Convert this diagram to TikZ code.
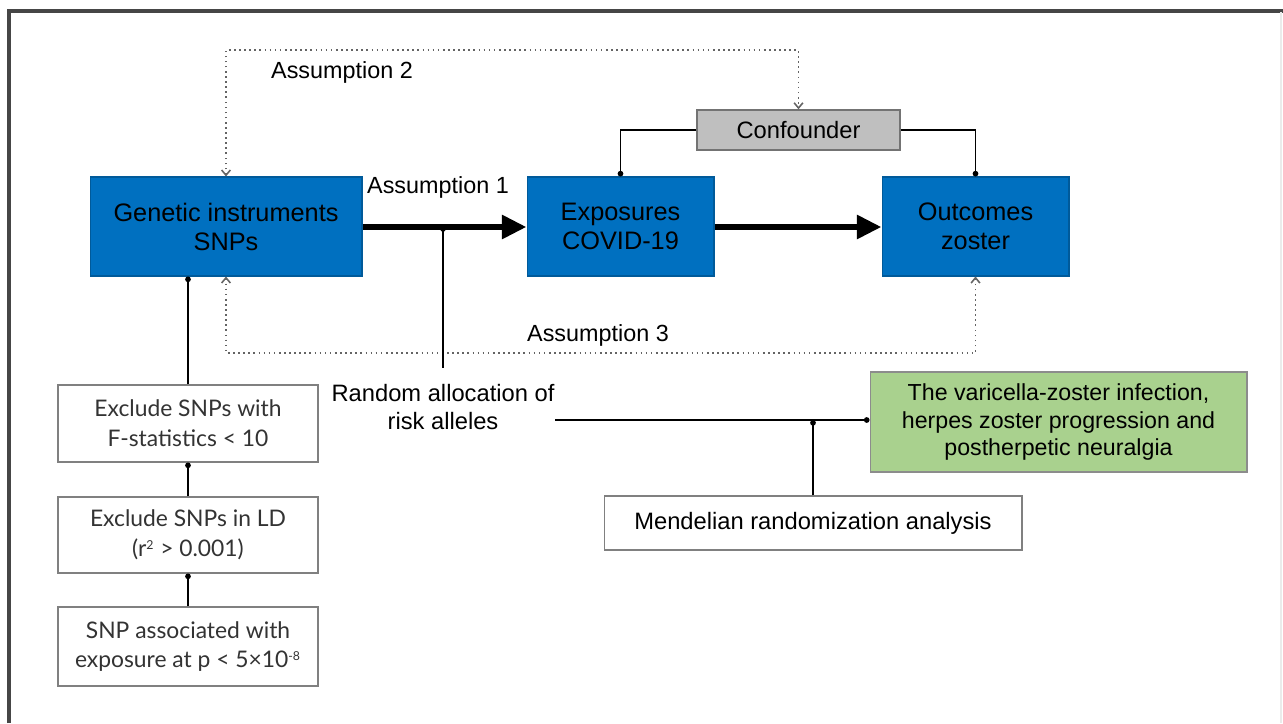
\documentclass[tikz,border=0pt]{standalone}
\usepackage{fontspec}
\setmainfont{Liberation Sans}
\newfontfamily\latofont{Lato}
\usetikzlibrary{arrows.meta,positioning}
\definecolor{mrblue}{RGB}{0,112,192}
\definecolor{mrgray}{RGB}{191,191,191}
\definecolor{mrgreen}{RGB}{169,209,142}
\definecolor{framegray}{RGB}{70,70,70}
\definecolor{dotgray}{RGB}{100,100,100}
\begin{document}
\begin{tikzpicture}[x=0.02cm,y=-0.02cm,
  bluebox/.style={draw=mrblue!80!black,fill=mrblue,line width=0.6pt,align=center,inner sep=0pt,
    font=\fontsize{14.4}{16.5}\selectfont},
  graybox/.style={draw=black!55,fill=mrgray,line width=0.8pt,align=center,inner sep=0pt,
    font=\fontsize{13.5}{16}\selectfont},
  greenbox/.style={draw=black!45,fill=mrgreen,line width=0.6pt,align=center,inner sep=0pt,
    font=\fontsize{13.2}{15.4}\selectfont},
  whitebox/.style={draw=black!50,fill=white,line width=0.6pt,align=center,inner sep=0pt,
    font=\fontsize{13.5}{16}\selectfont},
  stepbox/.style={draw=black!50,fill=white,line width=0.6pt,align=center,inner sep=0pt,
    minimum width=5.2cm,text=black!80,font=\latofont\fontsize{13}{17}\selectfont},
  lbl/.style={inner sep=0pt,font=\fontsize{13.3}{16}\selectfont},
  thickarrow/.style={line width=3.6pt,-{Triangle[length=14pt,width=13pt]}},
  thinarrow/.style={line width=0.8pt,-{Circle[length=3.2pt]}},
  dotarrow/.style={dotgray,line width=0.9pt,dotted,{Straight Barb[length=3pt,width=5pt]}-{Straight Barb[length=3pt,width=5pt]}}
]
\useasboundingbox (0,0) rectangle (1283,723);
% frame
\draw[framegray,line width=2pt] (9,723) -- (9,11) -- (1283,11);
\draw[black!8,line width=0.8pt] (1281,12) -- (1281,723);

% main boxes
\node[bluebox,minimum width=5.44cm,minimum height=1.98cm] (gen) at (226,226.5) {Genetic instruments\\SNPs};
\node[bluebox,minimum width=3.74cm,minimum height=1.98cm] (expo) at (620.5,226.5) {Exposures\\COVID-19};
\node[bluebox,minimum width=3.74cm,minimum height=1.98cm] (outc) at (975.5,226.5) {Outcomes\\zoster};
\node[graybox,minimum width=4.06cm,minimum height=0.8cm] (conf) at (798.5,130) {Confounder};

% left column
\node[stepbox,minimum height=1.54cm] (b1) at (188,423.5) {Exclude SNPs with\\F-statistics < 10};
\node[stepbox,minimum height=1.52cm] (b2) at (188,535) {Exclude SNPs in LD\\(r\textsuperscript{\scriptsize 2} > 0.001)};
\node[stepbox,minimum height=1.58cm] (b3) at (188,646.5) {SNP associated with\\exposure at p < 5×10\textsuperscript{\scriptsize -8}};

% right lower
\node[greenbox,minimum width=7.54cm,minimum height=2.0cm] (green) at (1058.5,422) {The varicella-zoster infection,\\herpes zoster progression and\\postherpetic neuralgia};
\node[whitebox,minimum width=8.36cm,minimum height=1.08cm] (mend) at (813,523) {Mendelian randomization analysis};

% labels
\node[lbl] (a1) at (438,187) {Assumption 1};
\node[lbl] (a2) at (342,72) {Assumption 2};
\node[lbl] (a3) at (598,335) {Assumption 3};
\coordinate (rtop) at (443,384);
\node[lbl,align=center,anchor=north,font=\fontsize{13.5}{16}\selectfont] (ralloc) at (rtop) {Random allocation of\\risk alleles};

% coordinates
\coordinate (j1) at (443,227);
\coordinate (jend) at (443,368);
\coordinate (a2l) at (226,50);
\coordinate (a2r) at (798.5,50);
\coordinate (a3l) at (226,353);
\coordinate (a3r) at (975.5,353);
\coordinate (mj) at (813,420);
\coordinate (rl) at (555,420);

% thick arrows
\draw[thickarrow] (gen.east |- j1) -- (expo.west |- j1);
\draw[thickarrow] (expo.east |- j1) -- (outc.west |- j1);

% confounder links
\draw[thinarrow] (conf.west) -| (expo.north);
\draw[thinarrow] (conf.east) -| (outc.north);

% assumption dotted paths
\draw[dotarrow] (gen.north) -- (a2l) -- (a2r) -- (conf.north);
\draw[dotarrow] (gen.south) -- (a3l) -- (a3r) -- (outc.south);

% random allocation
\draw[line width=0.8pt,{Circle[length=3pt]}-] (j1) -- (jend);
\draw[thinarrow] (rl) -- (green.west |- rl);
\draw[thinarrow] (mend.north) -- (mj);

% left column connectors
\draw[thinarrow] (b1.north) -- (b1.north |- gen.south);
\draw[thinarrow] (b2.north) -- (b1.south);
\draw[thinarrow] (b3.north) -- (b2.south);
\end{tikzpicture}
\end{document}
